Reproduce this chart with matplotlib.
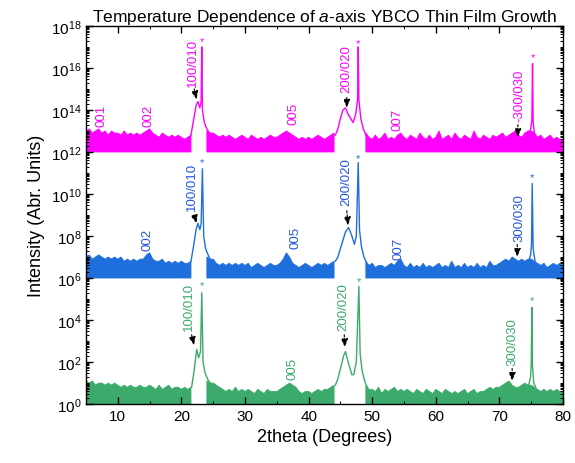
import numpy as np
import matplotlib
matplotlib.use("Agg")
import matplotlib.pyplot as plt
from matplotlib.ticker import LogLocator, MultipleLocator, NullFormatter

plt.rcParams['font.family'] = ['Liberation Sans', 'DejaVu Sans']
plt.rcParams['mathtext.fontset'] = 'custom'
plt.rcParams['mathtext.rm'] = 'Liberation Sans'
plt.rcParams['mathtext.it'] = 'Liberation Sans:italic'

# ---------------- data (log10 intensity above each curve's offset) ----------------
two_theta_grid = np.arange(5.0, 80.01, 0.5)

noise_pink = [
    1.0, 1.1, 0.9, 1.0, 1.1, 0.9, 1.0, 0.8, 1.0, 0.9,
    0.9, 0.8, 1.0, 0.8, 0.9, 0.8, 0.9, 0.8, 0.9, 1.0,
    1.1, 0.9, 0.8, 0.7, 0.9, 0.8, 0.7, 0.8, 0.7, 0.8,
    0.7, 0.6, 0.7, 0.8, 0.0, 0.0, 0.0, 0.0, 1.0, 0.9,
    0.9, 0.8, 0.7, 0.8, 0.7, 0.8, 0.7, 0.6, 0.7, 0.8,
    0.7, 0.6, 0.8, 0.7, 0.6, 0.7, 0.6, 0.7, 0.8, 0.7,
    0.7, 0.8, 0.9, 1.0, 0.9, 0.8, 0.7, 0.6, 0.7, 0.6,
    0.7, 0.6, 0.7, 0.8, 0.7, 0.6, 0.7, 0.8, 0.9, 0.0,
    0.0, 0.0, 0.0, 0.0, 0.0, 0.0, 0.0, 0.0, 0.9, 0.7,
    0.6, 0.8, 0.6, 0.7, 0.9, 0.6, 0.7, 0.6, 0.8, 0.9,
    0.7, 0.6, 0.8, 0.7, 0.6, 0.9, 0.7, 0.6, 0.8, 0.6,
    0.7, 1.0, 0.6, 0.7, 0.8, 0.6, 0.9, 0.7, 0.6, 0.8,
    0.7, 0.6, 1.0, 0.7, 0.6, 0.8, 0.7, 0.6, 0.8, 0.7,
    0.8, 0.9, 0.7, 0.8, 0.9, 1.0, 0.8, 0.7, 0.9, 1.0,
    1.0, 0.9, 0.7, 0.8, 0.6, 0.7, 0.8, 0.6, 0.7, 0.6,
    0.6]

noise_blue = [
    1.0, 1.1, 0.9, 1.0, 1.1, 1.0, 0.9, 1.0, 0.9, 1.0,
    0.9, 1.0, 0.8, 0.9, 0.8, 0.9, 0.8, 0.9, 0.9, 1.1,
    1.2, 0.9, 0.8, 0.8, 0.9, 0.7, 0.8, 0.7, 0.8, 0.7,
    0.8, 0.7, 0.7, 0.8, 0.0, 0.0, 0.0, 0.0, 1.0, 0.9,
    0.9, 0.7, 0.6, 0.7, 0.6, 0.7, 0.6, 0.7, 0.6, 0.7,
    0.6, 0.7, 0.5, 0.6, 0.7, 0.6, 0.5, 0.6, 0.7, 0.6,
    0.6, 0.7, 0.9, 1.2, 1.0, 0.7, 0.6, 0.5, 0.6, 0.7,
    0.6, 0.5, 0.6, 0.7, 0.6, 0.7, 0.6, 0.7, 0.8, 0.0,
    0.0, 0.0, 0.0, 0.0, 0.0, 0.0, 0.0, 0.0, 0.8, 0.6,
    0.7, 0.5, 0.6, 0.6, 0.5, 0.6, 0.7, 0.6, 0.8, 0.9,
    0.6, 0.5, 0.7, 0.5, 0.6, 0.5, 0.7, 0.5, 0.6, 0.5,
    0.6, 0.7, 0.5, 0.6, 0.5, 0.8, 0.5, 0.6, 0.5, 0.7,
    0.5, 0.6, 0.5, 0.7, 0.5, 0.6, 0.5, 0.8, 0.6, 0.6,
    0.7, 0.8, 0.9, 0.8, 1.0, 0.9, 0.8, 0.9, 0.8, 0.9,
    0.9, 0.8, 0.7, 0.6, 0.7, 0.5, 0.6, 0.7, 0.6, 0.7,
    0.6]

noise_green = [
    1.1, 1.0, 1.1, 0.9, 1.0, 1.0, 0.9, 1.0, 0.9, 1.0,
    0.9, 0.8, 0.9, 0.8, 0.9, 0.8, 0.8, 0.9, 0.8, 0.8,
    0.9, 0.8, 0.7, 0.9, 0.7, 0.8, 0.9, 0.7, 0.8, 0.8,
    0.7, 0.8, 0.7, 0.8, 0.0, 0.0, 0.0, 0.0, 1.1, 1.0,
    1.0, 0.9, 0.8, 0.7, 0.6, 0.7, 0.6, 0.8, 0.6, 0.7,
    0.6, 0.7, 0.6, 0.5, 0.7, 0.6, 0.5, 0.7, 0.6, 0.6,
    0.6, 0.7, 0.8, 0.9, 1.0, 0.9, 0.8, 0.6, 0.5, 0.6,
    0.6, 0.5, 0.6, 0.7, 0.6, 0.7, 0.7, 0.8, 0.9, 0.0,
    0.0, 0.0, 0.0, 0.0, 0.0, 0.0, 0.0, 0.0, 0.9, 0.7,
    0.7, 0.6, 0.8, 0.5, 0.7, 0.6, 0.7, 0.8, 0.6, 0.7,
    0.6, 0.7, 0.6, 0.5, 0.7, 0.6, 0.5, 0.7, 0.6, 0.5,
    0.7, 0.6, 0.5, 0.7, 0.6, 0.5, 0.6, 0.5, 0.6, 0.7,
    0.5, 0.6, 0.7, 0.5, 0.6, 0.6, 0.7, 0.8, 0.7, 0.8,
    0.8, 0.9, 1.0, 1.1, 0.9, 0.8, 0.8, 0.9, 1.0, 0.9,
    0.9, 0.8, 0.7, 0.6, 0.7, 0.6, 0.7, 0.6, 0.7, 0.6,
    0.6]

# peak profiles: (2theta, log10 intensity above offset)
pink_p1_x = [21.5, 21.9, 22.3, 22.6, 22.9, 23.1, 23.2, 23.3, 23.6, 24.0, 24.4]
pink_p1_y = [0.8, 1.5, 2.2, 2.4, 2.1, 2.4, 5.0, 2.0, 1.4, 1.1, 0.9]
pink_p2_x = [44.2, 44.6, 45.0, 45.4, 45.8, 46.2, 46.6, 47.0, 47.4, 47.7, 47.8, 47.9, 48.2, 48.6, 49.0]
pink_p2_y = [0.8, 1.1, 1.6, 2.0, 2.1, 1.8, 1.6, 1.4, 1.8, 2.5, 5.0, 2.5, 1.6, 1.1, 0.8]
pink_p3_x = [74.6, 74.9, 75.1, 75.2, 75.3, 75.5, 75.8]
pink_p3_y = [0.8, 1.1, 1.5, 4.2, 1.4, 0.9, 0.7]

blue_p1_x = [21.5, 21.9, 22.3, 22.6, 22.9, 23.1, 23.3, 23.5, 23.8, 24.2, 24.5]
blue_p1_y = [0.8, 1.5, 2.3, 2.6, 2.3, 2.6, 5.2, 2.0, 1.4, 1.1, 0.9]
blue_p2_x = [44.2, 44.6, 45.2, 45.8, 46.3, 46.8, 47.2, 47.5, 47.8, 48.0, 48.3, 48.7, 49.0]
blue_p2_y = [0.8, 1.0, 1.6, 2.2, 2.4, 2.0, 1.6, 2.0, 5.5, 2.3, 1.5, 1.0, 0.8]
blue_p3_x = [74.6, 74.9, 75.05, 75.15, 75.3, 75.6]
blue_p3_y = [0.8, 1.1, 1.6, 4.5, 1.4, 0.8]

green_p1_x = [21.6, 22.0, 22.4, 22.7, 23.0, 23.2, 23.4, 23.7, 24.1, 24.5]
green_p1_y = [0.8, 1.6, 2.6, 2.2, 2.5, 5.3, 2.0, 1.5, 1.2, 1.0]
green_p2_x = [44.2, 44.6, 45.1, 45.5, 45.8, 46.3, 46.8, 47.1, 47.5, 47.9, 48.1, 48.4, 48.8, 49.2]
green_p2_y = [0.9, 1.2, 1.8, 2.3, 2.5, 1.9, 1.4, 1.4, 2.0, 5.6, 2.4, 1.6, 1.1, 0.8]
green_p3_x = [74.6, 74.9, 75.0, 75.1, 75.2, 75.4, 75.7]
green_p3_y = [0.9, 1.3, 1.9, 4.6, 1.8, 1.0, 0.8]

offsets = [12, 6, 0]
colors = ['#FF00FF', '#1E6FDC', '#3BAA6B']
label_colors = ['#FF00FF', '#2456E0', '#3BAA6B']

# ---------------- figure ----------------
fig = plt.figure(figsize=(5.75, 4.64), dpi=100)
ax = fig.add_axes([0.1496, 0.127, 0.8296, 0.815])

series = [
    (noise_pink, [(pink_p1_x, pink_p1_y), (pink_p2_x, pink_p2_y), (pink_p3_x, pink_p3_y)]),
    (noise_blue, [(blue_p1_x, blue_p1_y), (blue_p2_x, blue_p2_y), (blue_p3_x, blue_p3_y)]),
    (noise_green, [(green_p1_x, green_p1_y), (green_p2_x, green_p2_y), (green_p3_x, green_p3_y)]),
]

for (noise, peaks), off, c in zip(series, offsets, colors):
    nz = np.array(noise)
    ax.fill_between(two_theta_grid, 10.0 ** off, 10.0 ** (off + nz),
                    color=c, lw=0.6, edgecolor=c, where=nz > 0)
    for px, py in peaks:
        ax.plot(px, 10.0 ** (off + np.array(py)), color=c, lw=1.0)

# ---------------- annotations ----------------
# (text, x, y_center(log), color index, arrow start/tip (x, log))
labels = [
    ('001', 7.5, 13.75, 0, None),
    ('002', 14.9, 13.75, 0, None),
    ('100/010', 21.8, 16.3, 0, ((22.0, 15.0), (22.4, 14.5))),
    ('005', 37.6, 13.85, 0, None),
    ('200/020', 45.9, 16.0, 0, ((46.0, 14.6), (46.0, 14.1))),
    ('007', 54.0, 13.55, 0, None),
    ('-300/030', 73.2, 14.7, 0, ((72.9, 13.3), (72.9, 12.7))),
    ('002', 14.6, 7.85, 1, None),
    ('100/010', 21.7, 10.4, 1, ((22.0, 9.0), (22.4, 8.6))),
    ('005', 37.9, 7.95, 1, None),
    ('200/020', 46.0, 10.6, 1, ((46.0, 9.2), (46.2, 8.5))),
    ('007', 54.1, 7.45, 1, None),
    ('300/030', 73.1, 8.9, 1, ((72.8, 7.6), (72.8, 7.0))),
    ('100/010', 21.2, 4.65, 2, ((21.6, 3.3), (22.0, 2.8))),
    ('005', 37.4, 1.7, 2, None),
    ('200/020', 45.4, 4.65, 2, ((45.6, 3.3), (45.7, 2.7))),
    ('300/030', 72.1, 3.0, 2, ((72.0, 1.7), (72.0, 1.1))),
]
for txt, x, yl, ci, arr in labels:
    ax.text(x, 10 ** yl, txt, rotation=90, ha='center', va='center',
            color=label_colors[ci], fontsize=9.5)
    if arr is not None:
        (x0, y0), (x1, y1) = arr
        ax.annotate('', xy=(x1, 10 ** y1), xytext=(x0, 10 ** y0),
                    arrowprops=dict(arrowstyle='-|>,head_length=0.5,head_width=0.2',
                                    color='k', lw=0.8, linestyle=(0, (2, 1.5)),
                                    shrinkA=0, shrinkB=0))

# substrate peak stars
stars = [(23.2, 17.3, 0), (47.8, 17.2, 0), (75.2, 16.5, 0),
         (23.3, 11.5, 1), (47.8, 11.7, 1), (75.15, 10.8, 1),
         (23.2, 5.65, 2), (47.9, 5.85, 2), (75.1, 4.95, 2)]
for x, yl, ci in stars:
    ax.text(x, 10 ** yl, '*', ha='center', va='center', color=colors[ci], fontsize=8)

# ---------------- axes styling ----------------
ax.set_yscale('log')
ax.set_xlim(5, 80)
ax.set_ylim(1, 1e18)
ax.xaxis.set_major_locator(MultipleLocator(10))
ax.xaxis.set_minor_locator(MultipleLocator(5))
ax.yaxis.set_major_locator(LogLocator(base=100, numticks=20))
ax.yaxis.set_minor_locator(LogLocator(base=10, subs=np.arange(1, 10), numticks=100))
ax.yaxis.set_minor_formatter(NullFormatter())
ax.tick_params(which='both', direction='in', top=True, right=True, labelsize=11)
ax.tick_params(which='major', length=5, width=1)
ax.tick_params(which='minor', length=2.5, width=0.7)
for s in ax.spines.values():
    s.set_linewidth(1.0)

ax.set_xlabel('2theta (Degrees)', fontsize=13)
ax.set_ylabel('Intensity (Abr. Units)', fontsize=13)
ax.set_title(r'Temperature Dependence of $\it{a}$-axis YBCO Thin Film Growth',
             fontsize=12.5, pad=2)

fig.savefig('out.png', dpi=100)
